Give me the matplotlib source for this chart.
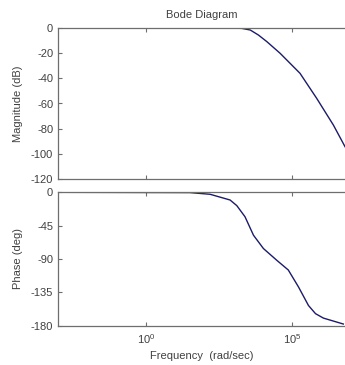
import numpy as np
import matplotlib
matplotlib.use("Agg")
import matplotlib.pyplot as plt
from matplotlib.ticker import FixedLocator, NullLocator, FuncFormatter

plt.rcParams['font.family'] = ['Liberation Sans', 'DejaVu Sans']
plt.rcParams['mathtext.default'] = 'regular'
plt.rcParams['axes.unicode_minus'] = False

# Data (frequency in rad/sec)
mag_freq = [1e-3, 1e1, 10**2.77, 10**3.28, 10**3.57, 10**3.85, 10**4.14, 10**4.59,
            10**5.27, 10**5.84, 10**6.41, 10**6.81]
mag_db = [0, 0, 0, -0.3, -1.6, -5.6, -10.9, -20.1, -36, -55.9, -77.1, -94.4]

phase_freq = [1e-3, 10**1.51, 10**2.20, 10**2.88, 10**3.11, 10**3.39, 10**3.68, 10**4.02,
              10**4.48, 10**4.87, 10**5.22, 10**5.56, 10**5.80, 10**6.07, 10**6.75]
phase_deg = [0, -0.4, -2.7, -10.4, -18, -33, -58, -76, -92, -105, -128, -153, -164, -170, -178]

mag_ticks = [0, -20, -40, -60, -80, -100, -120]
phase_ticks = [0, -45, -90, -135, -180]
freq_ticks = [1e0, 1e5]

title = "Bode Diagram"
xlabel = "Frequency  (rad/sec)"
mag_label = "Magnitude (dB)"
phase_label = "Phase (deg)"

W, H = 345, 365
fig = plt.figure(figsize=(W / 100, H / 100), dpi=100)
fig.patch.set_facecolor('white')

left = 58 / W
width = 289.7 / W
ax1 = fig.add_axes([left, 1 - 179 / H, width, (179 - 28) / H])
ax2 = fig.add_axes([left, 1 - 325.5 / H, width, (325.5 - 192.3) / H])

line_color = '#1c1c66'
spine_color = '#6e6e6e'
text_color = '#404040'
fs = 8

def fmt(v, pos):
    e = int(round(np.log10(v)))
    return r'$10^{%d}$' % e

for ax in (ax1, ax2):
    ax.set_xscale('log')
    ax.set_xlim(1e-3, 10**6.9)
    ax.xaxis.set_major_locator(FixedLocator(freq_ticks))
    ax.xaxis.set_minor_locator(NullLocator())
    ax.tick_params(direction='in', top=True, right=False, length=3, width=0.8,
                   colors=spine_color, labelcolor=text_color, labelsize=fs, pad=3.5)
    ax.tick_params(axis='x', pad=5)
    for s in ax.spines.values():
        s.set_color(spine_color)
        s.set_linewidth(0.9)
    ax.yaxis.set_label_coords(-35 / 289.7, 0.5)

ax1.plot(mag_freq, mag_db, color=line_color, lw=1.0)
ax1.set_ylim(-120, 0)
ax1.set_yticks(mag_ticks)
ax1.set_xticklabels([])
ax1.set_ylabel(mag_label, fontsize=fs, color=text_color)

ax2.plot(phase_freq, phase_deg, color=line_color, lw=1.0)
ax2.set_ylim(-180, 0)
ax2.set_yticks(phase_ticks)
ax2.xaxis.set_major_formatter(FuncFormatter(fmt))
ax2.set_ylabel(phase_label, fontsize=fs, color=text_color)

fig.text(202 / W, 1 - 15 / H, title, ha='center', va='center', fontsize=fs, color=text_color)
fig.text(202 / W, 1 - 356 / H, xlabel, ha='center', va='center', fontsize=fs, color=text_color)

fig.savefig("out.png", dpi=100, facecolor='white')
